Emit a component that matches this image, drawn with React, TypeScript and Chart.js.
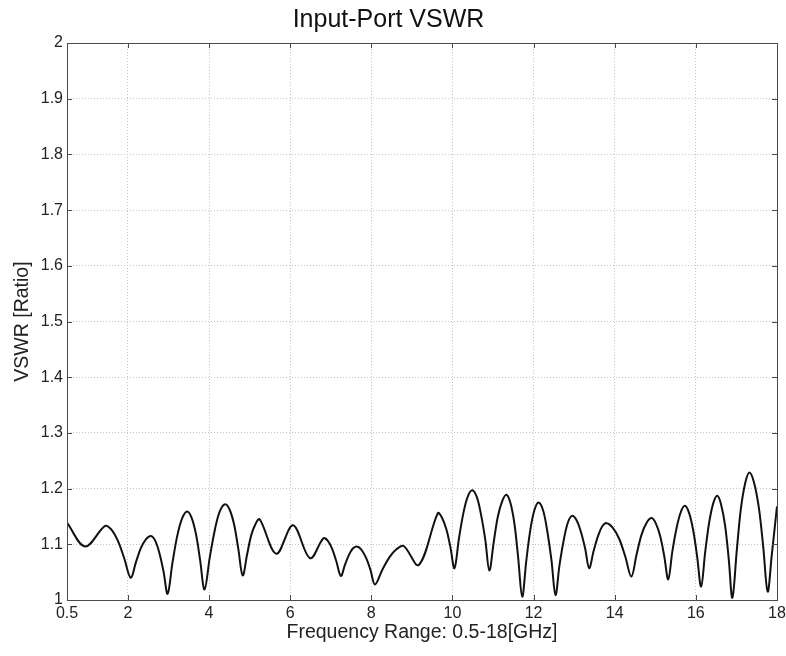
import React, { useEffect, useRef } from "react";
import { Chart, registerables } from "chart.js";

Chart.register(...registerables);

const chartTitle = "Input-Port VSWR";
const xAxisTitle = "Frequency Range: 0.5-18[GHz]";
const yAxisTitle = "VSWR [Ratio]";

const xTickValues = [0.5, 2, 4, 6, 8, 10, 12, 14, 16, 18];
const yTickValues = [1, 1.1, 1.2, 1.3, 1.4, 1.5, 1.6, 1.7, 1.8, 1.9, 2];

const freqGHz = [
  0.5, 0.945, 1.44, 1.6, 1.755, 1.91, 2.07, 2.2, 2.32, 2.445,
  2.57, 2.67, 2.775, 2.88, 2.98, 3.1, 3.22, 3.34, 3.46, 3.57,
  3.68, 3.78, 3.89, 4.02, 4.15, 4.27, 4.4, 4.51, 4.62, 4.72,
  4.83, 4.94, 5.04, 5.15, 5.25, 5.66, 6.07, 6.49, 6.82, 6.93,
  7.04, 7.14, 7.25, 7.35, 7.45, 7.54, 7.64, 7.75, 7.87, 7.98,
  8.09, 8.27, 8.45, 8.62, 8.8, 9.17, 9.64, 9.74, 9.85, 9.95,
  10.05, 10.16, 10.27, 10.38, 10.49, 10.6, 10.7, 10.81, 10.91, 11.02,
  11.12, 11.23, 11.33, 11.43, 11.53, 11.62, 11.72, 11.82, 11.92, 12.02,
  12.12, 12.23, 12.33, 12.44, 12.54, 12.64, 12.75, 12.85, 12.95, 13.06,
  13.16, 13.27, 13.37, 13.48, 13.59, 13.69, 13.8, 13.95, 14.11, 14.26,
  14.41, 14.54, 14.66, 14.79, 14.91, 15.01, 15.12, 15.22, 15.32, 15.42,
  15.53, 15.63, 15.73, 15.83, 15.93, 16.03, 16.13, 16.23, 16.33, 16.43,
  16.53, 16.62, 16.72, 16.81, 16.9, 17.01, 17.11, 17.22, 17.32, 17.43,
  17.55, 17.66, 17.77, 17.87, 18.0,
];

const vswr = [
  1.139, 1.096, 1.133, 1.126, 1.106, 1.075, 1.04, 1.068, 1.093, 1.109,
  1.115, 1.107, 1.085, 1.051, 1.011, 1.067, 1.116, 1.147, 1.159, 1.148,
  1.118, 1.072, 1.019, 1.077, 1.128, 1.16, 1.172, 1.162, 1.135, 1.093,
  1.044, 1.082, 1.116, 1.137, 1.145, 1.083, 1.134, 1.075, 1.111, 1.106,
  1.091, 1.069, 1.043, 1.063, 1.081, 1.092, 1.096, 1.091, 1.076, 1.054,
  1.028, 1.054, 1.077, 1.091, 1.097, 1.063, 1.156, 1.148, 1.127, 1.095,
  1.057, 1.11, 1.156, 1.186, 1.197, 1.185, 1.155, 1.108, 1.053, 1.105,
  1.15, 1.178, 1.189, 1.174, 1.136, 1.076, 1.006, 1.07, 1.126, 1.161,
  1.175, 1.162, 1.127, 1.072, 1.009, 1.063, 1.11, 1.14, 1.151, 1.143,
  1.124, 1.093, 1.057, 1.088, 1.115, 1.132, 1.138, 1.13, 1.11, 1.078,
  1.042, 1.082, 1.117, 1.139, 1.147, 1.138, 1.115, 1.079, 1.037, 1.087,
  1.131, 1.158, 1.169, 1.157, 1.127, 1.079, 1.024, 1.086, 1.14, 1.174,
  1.187, 1.172, 1.134, 1.074, 1.004, 1.09, 1.164, 1.211, 1.229, 1.212,
  1.167, 1.096, 1.015, 1.08, 1.168,
];

const FONT = "'Liberation Sans', Arial, Helvetica, sans-serif";

const framePlugin = {
  id: "matlabFrame",
  afterDraw(chart: any) {
    const { ctx, chartArea } = chart;
    const { left, right, top, bottom } = chartArea;
    const xs = chart.scales.x;
    const ys = chart.scales.y;
    ctx.save();
    ctx.strokeStyle = "#4a4a4a";
    ctx.lineWidth = 1;
    ctx.strokeRect(Math.round(left) + 0.5, Math.round(top) + 0.5, Math.round(right - left), Math.round(bottom - top));
    const tl = 5;
    ctx.beginPath();
    xTickValues.forEach((v) => {
      const px = Math.round(xs.getPixelForValue(v)) + 0.5;
      ctx.moveTo(px, top);
      ctx.lineTo(px, top + tl);
      ctx.moveTo(px, bottom);
      ctx.lineTo(px, bottom - tl);
    });
    yTickValues.forEach((v) => {
      const py = Math.round(ys.getPixelForValue(v)) + 0.5;
      ctx.moveTo(left, py);
      ctx.lineTo(left + tl, py);
      ctx.moveTo(right, py);
      ctx.lineTo(right - tl, py);
    });
    ctx.stroke();
    ctx.restore();
  },
};

export default function App() {
  const canvasRef = useRef<HTMLCanvasElement | null>(null);

  useEffect(() => {
    const canvas = canvasRef.current;
    if (!canvas) return;
    const chart = new Chart(canvas, {
      type: "line",
      data: {
        datasets: [
          {
            data: freqGHz.map((f, i) => ({ x: f, y: vswr[i] })),
            borderColor: "#111111",
            borderWidth: 2,
            pointRadius: 0,
            tension: 0.35,
            fill: false,
          },
        ],
      },
      options: {
        responsive: false,
        animation: false,
        devicePixelRatio: 1,
        layout: { padding: { left: 0, right: 9, top: 0, bottom: 0 } },
        plugins: {
          legend: { display: false },
          tooltip: { enabled: false },
          title: {
            display: true,
            text: chartTitle,
            color: "#111111",
            font: { family: FONT, size: 25, weight: "normal" },
            padding: { top: 5, bottom: 8 },
          },
        },
        scales: {
          x: {
            type: "linear",
            min: 0.5,
            max: 18,
            afterBuildTicks: (scale: any) => {
              scale.ticks = xTickValues.map((v) => ({ value: v }));
            },
            afterFit: (scale: any) => {
              scale.height = 56;
              scale.paddingLeft = 0;
              scale.paddingRight = 0;
            },
            ticks: {
              autoSkip: false,
              maxRotation: 0,
              padding: 4,
              color: "#222222",
              font: { family: FONT, size: 16 },
              callback: (v: any) => String(v),
            },
            grid: {
              drawTicks: false,
              color: "#c4c4c4",
              lineWidth: 1,
            },
            border: { display: false, dash: [1, 2] },
            title: {
              display: true,
              text: xAxisTitle,
              color: "#222222",
              font: { family: FONT, size: 19.5 },
              padding: { top: 0, bottom: 12 },
            },
          },
          y: {
            type: "linear",
            min: 1,
            max: 2,
            afterBuildTicks: (scale: any) => {
              scale.ticks = yTickValues.map((v) => ({ value: v }));
            },
            afterFit: (scale: any) => {
              scale.width = 67;
            },
            ticks: {
              autoSkip: false,
              padding: 4,
              color: "#222222",
              font: { family: FONT, size: 16 },
              callback: (v: any) => String(Math.round(v * 10) / 10),
            },
            grid: {
              drawTicks: false,
              color: "#c4c4c4",
              lineWidth: 1,
            },
            border: { display: false, dash: [1, 2] },
            title: {
              display: true,
              text: yAxisTitle,
              color: "#222222",
              font: { family: FONT, size: 19.5 },
              padding: { top: 11, bottom: 0 },
            },
          },
        },
      },
      plugins: [framePlugin],
    });
    return () => chart.destroy();
  }, []);

  return (
    <div style={{ position: "fixed", left: 0, top: 0, width: 786, height: 656, background: "#ffffff" }}>
      <canvas ref={canvasRef} width={786} height={656} style={{ display: "block" }} />
    </div>
  );
}
